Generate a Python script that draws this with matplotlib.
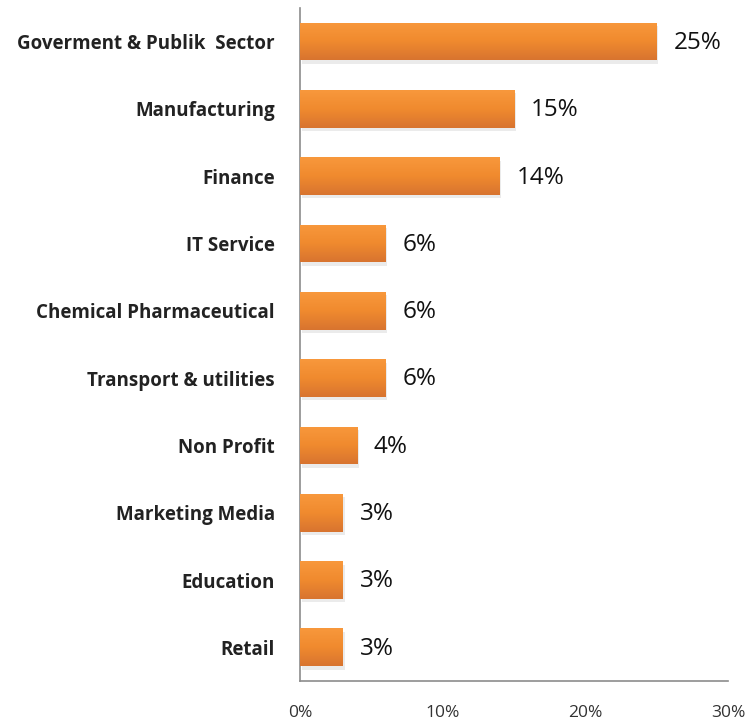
import matplotlib.pyplot as plt
import numpy as np
from matplotlib.colors import LinearSegmentedColormap

sectors = ['Goverment & Publik  Sector', 'Manufacturing', 'Finance', 'IT Service',
           'Chemical Pharmaceutical', 'Transport & utilities', 'Non Profit',
           'Marketing Media', 'Education', 'Retail']
shares = [25, 15, 14, 6, 6, 6, 4, 3, 3, 3]
xticks = [0, 10, 20, 30]

plt.rcParams['font.family'] = ['Open Sans', 'DejaVu Sans']

fig = plt.figure(figsize=(7.47, 7.23), dpi=100)
ax = fig.add_axes([0.4016, 0.0581, 0.573, 0.931])

y = np.arange(len(sectors))
h = 0.56
grad = LinearSegmentedColormap.from_list('org', ['#f8983c', '#f08a2e', '#d87430'])
g = np.linspace(0, 1, 64).reshape(-1, 1)

# soft shadow, then the bars with a vertical gradient
ax.barh(y + 0.05, shares, height=h, left=0.12, color='#c0c0c0', alpha=0.3, zorder=1)
bars = ax.barh(y, shares, height=h, color='#f08a2e', zorder=2)
for b in bars:
    x0, y0 = b.get_x(), b.get_y()
    im = ax.imshow(g, cmap=grad, aspect='auto', zorder=3,
                   extent=[x0, x0 + b.get_width(), y0 + b.get_height(), y0])
    im.set_clip_path(b)

for yi, v in zip(y, shares):
    ax.annotate(f'{v}%', (v, yi), xytext=(12, -1), textcoords='offset points',
                va='center', ha='left', fontsize=17.5, color='#111111')

ax.set_xlim(0, 30)
ax.set_ylim(len(sectors) - 0.5, -0.5)
ax.set_xticks(xticks)
ax.set_xticklabels([f'{t}%' for t in xticks], fontsize=12.5, color='#333333')
ax.set_yticks(y)
ax.set_yticklabels(sectors, fontsize=13.5, fontweight='bold', color='#222222')
ax.tick_params(axis='x', length=0, pad=17)
ax.tick_params(axis='y', length=0, pad=18)
for s in ['top', 'right']:
    ax.spines[s].set_visible(False)
for s in ['left', 'bottom']:
    ax.spines[s].set_color('#8c8c8c')
    ax.spines[s].set_linewidth(1.2)

fig.savefig('out.png', dpi=100)
